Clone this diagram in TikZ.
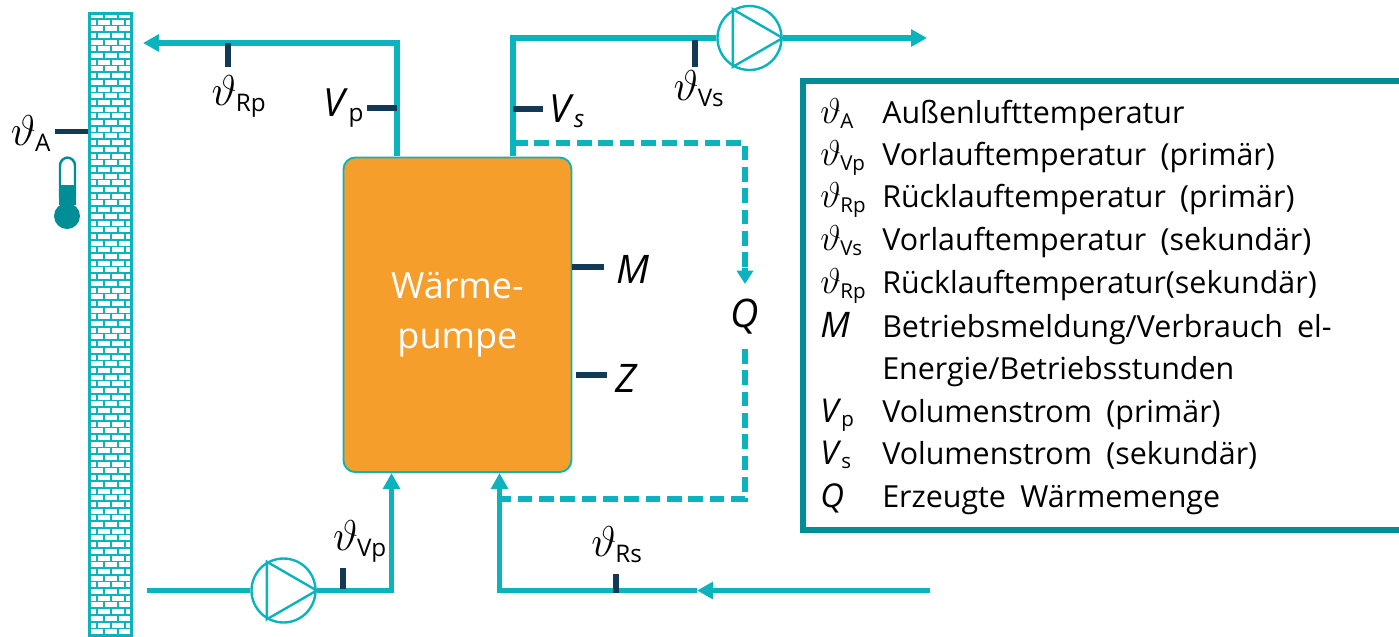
\documentclass[tikz,border=0pt]{standalone}
\usepackage{graphicx}
\usepackage{fontspec}
\setmainfont{Open Sans}
\usetikzlibrary{arrows.meta}
\definecolor{pipe}{HTML}{0BB3BC}
\definecolor{dark}{HTML}{008E96}
\definecolor{tick}{HTML}{123A57}
\definecolor{wp}{HTML}{F59E2C}
\newcommand{\vt}[1]{\scalebox{1.3}{$\vartheta$}\textsubscript{\kern-0.5pt#1}}
\newcommand{\widesp}{\spaceskip=0.47em\relax}
\tikzset{
 x=0.75pt,y=-0.75pt,
 pipeline/.style={draw=pipe,line width=3.9pt},
 pipearrow/.style={pipeline,-{Triangle[length=12pt,width=12.5pt]}},
 dashpipe/.style={draw=pipe,line width=3.8pt,dash pattern=on 11pt off 5pt},
 ticks/.style={draw=tick,line width=3.9pt},
 pumpbody/.style={circle,draw=pipe,line width=1.8pt,minimum size=48pt,inner sep=0pt,fill=white},
 lab/.style={font=\fontsize{26}{28}\selectfont,inner sep=0pt,text=black},
 labbig/.style={font=\fontsize{29.5}{32}\selectfont,inner sep=0pt,text=black},
 leg/.style={font=\fontsize{22.8}{26}\selectfont,inner sep=0pt,anchor=base west,text=black},
 legs/.style={font=\fontsize{22}{26}\selectfont,inner sep=0pt,anchor=base west,text=black},
}
\begin{document}
\begin{tikzpicture}
\useasboundingbox (0,0) rectangle (1399,636);
% wall
\node[draw=pipe,line width=2.2pt,fill=white,minimum width=31.5pt,minimum height=467pt,inner sep=0pt,anchor=north west] (wall) at (88,12) {};
\begin{scope}
\clip (88,12) rectangle (131,636);
\foreach \r in {0,...,93}{
  \pgfmathsetmacro{\yy}{12+\r*6.7}
  \draw[pipe,line width=1.3pt] (88,\yy) -- (131,\yy);
  \pgfmathsetmacro{\off}{mod(\r,2)==0 ? 0 : 7}
  \foreach \i in {0,1,2,3}{
    \pgfmathsetmacro{\xx}{90+\off+\i*14}
    \draw[pipe,line width=1.3pt] (\xx,\yy) -- (\xx,\yy+6.7);
  }
}
\end{scope}
% heat pump
\node[draw=pipe,line width=1.4pt,fill=wp,rounded corners=9pt,minimum width=171pt,minimum height=236pt,inner sep=0pt,anchor=north west,align=center,text=white,font=\fontsize{27}{38}\selectfont] (hp) at (342.5,156.5) {Wärme-\\pumpe};
% pumps
\node[pumpbody] (p1) at (283.5,590.5) {};
\node[pumpbody] (p2) at (749.5,38) {};
\foreach \p in {p1,p2}{
  \draw[pipe,line width=1.8pt] (\p.120) -- (\p.240) -- (\p.0) -- cycle;
}
% coordinates
\coordinate (a1) at (397,43);
\coordinate (a2) at (143,43);
\coordinate (a0) at (397,156);
\coordinate (b0) at (513,156);
\coordinate (b1) at (513,38);
\coordinate (c1) at (927,38);
\coordinate (d0) at (147,590.5);
\coordinate (d1) at (391.5,590.5);
\coordinate (d2) at (391.5,473);
\coordinate (e0) at (930,590.5);
\coordinate (e1) at (697,590.5);
\coordinate (e2) at (499.5,590.5);
\coordinate (e3) at (499.5,473);
\coordinate (f0) at (513,143);
\coordinate (f1) at (745,143);
\coordinate (f2) at (745,284);
\coordinate (f3) at (745,268);
\coordinate (g0) at (745,349);
\coordinate (g1) at (745,499);
\coordinate (g2) at (500,499);
% pipes
\draw[pipearrow] (a0) -- (a1) -- (a2);
\draw[pipeline] (b0) -- (b1) -- (p2.west);
\draw[pipearrow] (p2.east) -- (c1);
\draw[pipeline] (d0) -- (p1.west);
\draw[pipearrow] (p1.east) -- (d1) -- (d2);
\draw[pipearrow] (e0) -- (e1);
\draw[pipearrow] (e1) -- (e2) -- (e3);
\draw[dashpipe] (f0) -- (f1) -- (f3);
\draw[pipe,line width=3.8pt,-{Triangle[length=10pt,width=12pt]}] (f3) -- (f2);
\draw[dashpipe] (g0) -- (g1) -- (g2);
% sensor ticks
\draw[ticks] (228,43) -- (228,67);
\draw[ticks] (55,131.5) -- (88,131.5);
\draw[ticks] (367,108) -- (397,108);
\draw[ticks] (513,109) -- (543,109);
\draw[ticks] (695,40) -- (695,67);
\draw[ticks] (572,267) -- (604,267);
\draw[ticks] (576,375) -- (607,375);
\draw[ticks] (343,568) -- (343,589);
\draw[ticks] (616,574) -- (616,593);
% thermometer
\draw[dark,line width=1.8pt,rounded corners=6pt,fill=white] (60,205) -- (60,157.5) -- (75,157.5) -- (75,205) -- cycle;
\fill[dark] (59,185) rectangle (76,205);
\fill[dark] (61.5,200) rectangle (73,212);
\fill[dark] (67,216) circle[radius=13];
% labels
\node[lab] (lA) at (31,134) {\vt{A}};
\node[lab] (lRp) at (239,96) {\vt{Rp}};
\node[lab] (lVs) at (699,89) {\vt{Vs}};
\node[lab] (lVp) at (360,541) {\vt{Vp}};
\node[lab] (lRs) at (617,545) {\vt{Rs}};
\node[lab] (lVvp) at (344,108) {\scalebox{1.12}{\textit{V}}\textsubscript{p}};
\node[lab] (lVvs) at (567,111) {\scalebox{1.12}{\textit{V}}\textit{\textsubscript{s}}};
\node[labbig] (lM) at (632.5,269) {\textit{M}};
\node[labbig] (lZ) at (627,378) {\textit{Z}};
\node[labbig] (lQ) at (745,317) {\textit{Q}};
% legend
\draw[dark,line width=4.4pt] (1402,530) -- (803,530) -- (803,81) -- (1402,81);
\foreach \yy/\sym/\txt in {
  123/{\vt{A}}/{Außenlufttemperatur},
  165/{\vt{Vp}}/{Vorlauftemperatur (primär)},
  207/{\vt{Rp}}/{Rücklauftemperatur (primär)},
  250/{\vt{Vs}}/{Vorlauftemperatur (sekundär)},
  293/{\vt{Rp}}/{Rücklauftemperatur(sekundär)},
  337/{\scalebox{1.2}{\textit{M}}}/{Betriebsmeldung/Verbrauch el-},
  379/{}/{Energie/Betriebsstunden},
  422/{\scalebox{1.12}{\textit{V}}\textsubscript{p}}/{Volumenstrom (primär)},
  464/{\scalebox{1.12}{\textit{V}}\textsubscript{s}}/{Volumenstrom (sekundär)},
  507/{\scalebox{1.12}{\textit{Q}}}/{Erzeugte Wärmemenge}}{
  \node[legs] at (820,\yy) {\sym};
  \node[leg] at (882,\yy) {\widesp\txt};
}
\end{tikzpicture}
\end{document}
